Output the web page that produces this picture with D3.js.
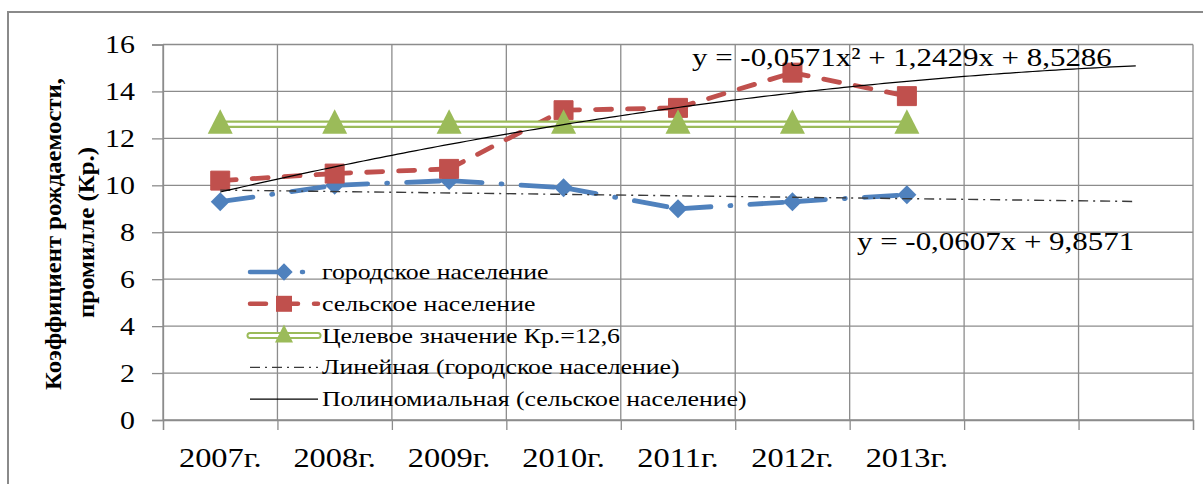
<!DOCTYPE html>
<html>
<head>
<meta charset="utf-8">
<script src="https://cdn.jsdelivr.net/npm/d3@7"></script>
<style>
  html, body { margin: 0; padding: 0; background: #fff; }
  svg { display: block; }
  text { font-family: "Liberation Serif", "Times New Roman", serif; fill: #000; }
</style>
</head>
<body>
<svg id="chart" width="1203" height="484"></svg>
<script>
// ---- data ----
const years = ["2007г.", "2008г.", "2009г.", "2010г.", "2011г.", "2012г.", "2013г."];
const urban = [9.3, 10.0, 10.2, 9.9, 9.0, 9.3, 9.6];
const rural = [10.2, 10.5, 10.7, 13.2, 13.3, 14.8, 13.8];
const target = [12.6, 12.6, 12.6, 12.6, 12.6, 12.6, 12.6];
const yTicks = [0, 2, 4, 6, 8, 10, 12, 14, 16];
const forecastPeriods = 2;
const linCoef = [-0.0607, 9.8571];            // y = a x + b
const polyCoef = [-0.0571, 1.2429, 8.5286];   // y = a x^2 + b x + c
const seriesNames = ["городское население", "сельское население", "Целевое значение Кр.=12,6",
  "Линейная (городское население)", "Полиномиальная (сельское население)"];
const eqPoly = "y = -0,0571x² + 1,2429x + 8,5286";
const eqLin = "y = -0,0607x + 9,8571";
const axisTitle = ["Коэффициент рождаемости,", "промилле (Кр.)"];

// ---- layout ----
const FONT = "Liberation Serif, Times New Roman, serif";
const svg = d3.select("#chart");
const nCat = years.length + forecastPeriods;
const plot = { left: 163, right: 1193, top: 44.5, bottom: 420 };
const x = d3.scaleLinear().domain([0.5, nCat + 0.5]).range([plot.left, plot.right]);
const y = d3.scaleLinear().domain([0, 16]).range([plot.bottom, plot.top]);
const gridColor = "#8c8c8c";
const blue = "#4F81BD", red = "#C0504D", green = "#9BBB59";

// stretched text helper
function stext(parent, px, py, str, size, sx, anchor, weight) {
  const g = parent.append("g").attr("transform", `translate(${px},${py}) scale(${sx},1)`);
  return g.append("text").attr("font-family", FONT).attr("font-size", size)
    .attr("text-anchor", anchor || "start").attr("font-weight", weight || "normal").text(str);
}

// outer frame
svg.append("path")
  .attr("d", `M8,484 L8,12 L1203,12`)
  .attr("fill", "none").attr("stroke", "#8a8a8a").attr("stroke-width", 2);

// gridlines
const boundaries = d3.range(0, nCat + 1).map(i => i + 0.5);
svg.append("g").selectAll("line").data(yTicks).join("line")
  .attr("x1", plot.left).attr("x2", plot.right)
  .attr("y1", d => y(d)).attr("y2", d => y(d))
  .attr("stroke", gridColor).attr("stroke-width", 1.3);
svg.append("g").selectAll("line").data(boundaries).join("line")
  .attr("x1", d => x(d)).attr("x2", d => x(d))
  .attr("y1", plot.top).attr("y2", plot.bottom)
  .attr("stroke", gridColor).attr("stroke-width", 1.3);

// y axis
const ySx = 1.15;
const yAxis = svg.append("g").attr("transform", `translate(${plot.left},0)`)
  .call(d3.axisLeft(y).tickValues(yTicks).tickSize(11).tickPadding(17).tickFormat(d3.format("d")));
yAxis.select(".domain").attr("stroke", gridColor).attr("stroke-width", 1.3);
yAxis.selectAll(".tick line").attr("stroke", gridColor).attr("stroke-width", 1.3);
yAxis.selectAll(".tick text")
  .attr("font-family", FONT).attr("font-size", 26).attr("fill", "#000")
  .attr("x", -28 / ySx).attr("transform", `scale(${ySx},1)`);

// x axis (ticks at category boundaries)
const xAxis = svg.append("g").attr("transform", `translate(0,${plot.bottom})`)
  .call(d3.axisBottom(x).tickValues(boundaries).tickSize(10).tickFormat(""));
xAxis.select(".domain").attr("stroke", gridColor).attr("stroke-width", 1.3);
xAxis.selectAll(".tick line").attr("stroke", gridColor).attr("stroke-width", 1.3);
const xl = svg.append("g");
years.forEach((d, i) => stext(xl, x(i + 1), 467, d, 27, 1.2, "middle"));

// axis title
const titleLen = [312, 171];
axisTitle.forEach((t, i) => {
  svg.append("text")
    .attr("transform", `translate(${61 + i * 33},${234 - i * 1.5}) rotate(-90)`)
    .attr("font-family", FONT)
    .attr("text-anchor", "middle").attr("font-weight", "bold").attr("font-size", 24)
    .attr("textLength", titleLen[i]).attr("lengthAdjust", "spacingAndGlyphs")
    .text(t);
});

// ---- series ----
const pts = arr => arr.map((v, i) => [x(i + 1), y(v)]);
function segPath(points, g, stroke, width, dash) {
  for (let i = 0; i < points.length - 1; i++) {
    g.append("line")
      .attr("x1", points[i][0]).attr("y1", points[i][1])
      .attr("x2", points[i + 1][0]).attr("y2", points[i + 1][1])
      .attr("stroke", stroke).attr("stroke-width", width)
      .attr("stroke-dasharray", dash).attr("stroke-linecap", "round");
  }
}
const blueDash = "33,19,1,19";
const redDash = "16,16";
const diamondPath = d3.symbol().type(d3.symbolSquare).size(180)();

// urban
const gU = svg.append("g");
segPath(pts(urban), gU, blue, 4.8, blueDash);
gU.selectAll("path").data(pts(urban)).join("path")
  .attr("d", diamondPath)
  .attr("transform", d => `translate(${d[0]},${d[1]}) rotate(45)`)
  .attr("fill", blue);

// rural
const gR = svg.append("g");
segPath(pts(rural), gR, red, 4.8, redDash);
gR.selectAll("path").data(pts(rural)).join("path")
  .attr("d", d3.symbol().type(d3.symbolSquare).size(360)())
  .attr("transform", d => `translate(${d[0]},${d[1]})`)
  .attr("fill", red).attr("stroke", red).attr("stroke-width", 1).attr("stroke-linejoin", "round");

// target
const gT = svg.append("g");
const tline = d3.line()(pts(target));
gT.append("path").attr("d", tline).attr("fill", "none").attr("stroke", green).attr("stroke-width", 7.5);
gT.append("path").attr("d", tline).attr("fill", "none").attr("stroke", "#fff").attr("stroke-width", 3);
const tri = d => `M${d[0]},${d[1] - 15} L${d[0] + 12.5},${d[1] + 9.5} L${d[0] - 12.5},${d[1] + 9.5} Z`;
gT.selectAll("path.m").data(pts(target)).join("path")
  .attr("class", "m").attr("d", tri).attr("fill", green);

// trendlines
const xs = d3.range(1, nCat + 0.001, 0.05);
const polyF = t => polyCoef[0] * t * t + polyCoef[1] * t + polyCoef[2];
const linF = t => linCoef[0] * t + linCoef[1];
svg.append("path")
  .attr("d", d3.line()([[x(1), y(linF(1))], [x(nCat), y(linF(nCat))]]))
  .attr("fill", "none").attr("stroke", "#3a3a3a").attr("stroke-width", 1.4)
  .attr("stroke-dasharray", "10,5,2,5");
svg.append("path")
  .attr("d", d3.line()(xs.map(t => [x(t), y(polyF(t))])))
  .attr("fill", "none").attr("stroke", "#000").attr("stroke-width", 1.2);

// equations
stext(svg, 692, 66, eqPoly, 26, 1.19, "start");
stext(svg, 857, 250, eqLin, 26, 1.19, "start");

// ---- legend ----
const lg = svg.append("g");
const lx0 = 250, lx1 = 318, lxc = 284, ltx = 322;
const rowY = i => 272 + i * 31.8;
seriesNames.forEach((name, i) => {
  stext(lg, ltx, rowY(i) + 7, name, 21.5, 1.2, "start");
});
// row 0
lg.append("line").attr("x1", lx0).attr("x2", lx1).attr("y1", rowY(0)).attr("y2", rowY(0))
  .attr("stroke", blue).attr("stroke-width", 4.5).attr("stroke-dasharray", blueDash).attr("stroke-linecap", "round");
lg.append("path").attr("d", d3.symbol().type(d3.symbolSquare).size(150)())
  .attr("transform", `translate(${lxc},${rowY(0)}) rotate(45)`).attr("fill", blue);
// row 1
lg.append("line").attr("x1", lx0).attr("x2", lx1).attr("y1", rowY(1)).attr("y2", rowY(1))
  .attr("stroke", red).attr("stroke-width", 4.5).attr("stroke-dasharray", redDash).attr("stroke-linecap", "round");
lg.append("path").attr("d", d3.symbol().type(d3.symbolSquare).size(256)())
  .attr("transform", `translate(${lxc},${rowY(1)})`).attr("fill", red);
// row 2
lg.append("line").attr("x1", lx0).attr("x2", lx1).attr("y1", rowY(2)).attr("y2", rowY(2))
  .attr("stroke", green).attr("stroke-width", 7).attr("stroke-linecap", "round");
lg.append("line").attr("x1", lx0).attr("x2", lx1).attr("y1", rowY(2)).attr("y2", rowY(2))
  .attr("stroke", "#fff").attr("stroke-width", 3).attr("stroke-linecap", "round");
lg.append("path").attr("d", `M${lxc},${rowY(2) - 11} L${lxc + 9},${rowY(2) + 7} L${lxc - 9},${rowY(2) + 7} Z`).attr("fill", green);
// row 3
lg.append("line").attr("x1", lx0).attr("x2", lx1).attr("y1", rowY(3)).attr("y2", rowY(3))
  .attr("stroke", "#3a3a3a").attr("stroke-width", 1.4).attr("stroke-dasharray", "10,5,2,5");
// row 4
lg.append("line").attr("x1", lx0).attr("x2", lx1).attr("y1", rowY(4)).attr("y2", rowY(4))
  .attr("stroke", "#000").attr("stroke-width", 1.2);
</script>
</body>
</html>
